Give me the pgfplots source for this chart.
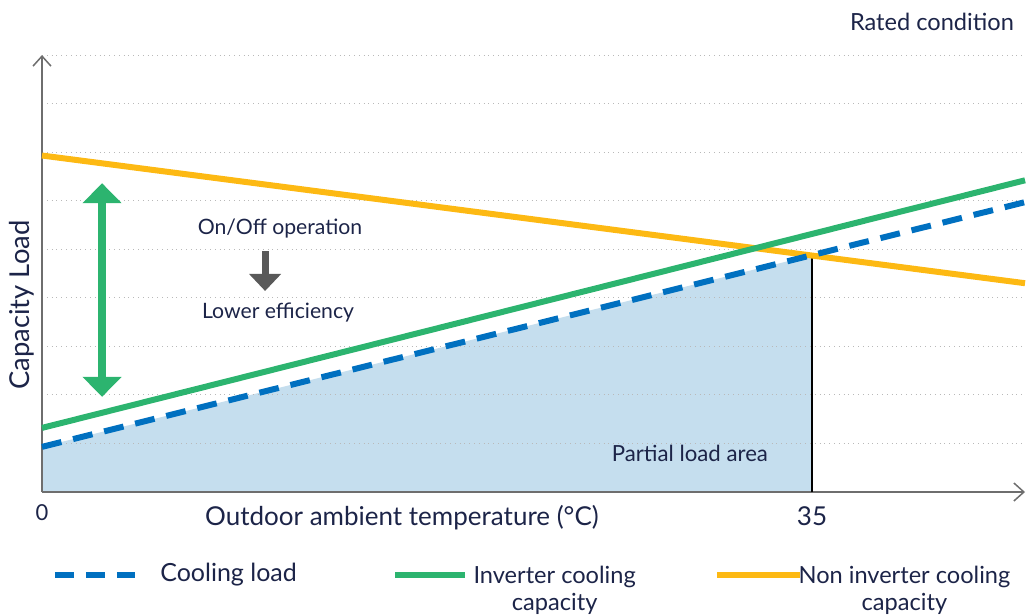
\documentclass[border=0pt]{standalone}
\usepackage{pgfplots}
\pgfplotsset{compat=1.18}
\usetikzlibrary{arrows.meta}
\usepackage{fontspec}
\setmainfont{Lato}
\definecolor{txt}{RGB}{28,36,72}
\definecolor{cblue}{RGB}{0,112,192}
\definecolor{cgreen}{RGB}{44,180,111}
\definecolor{corange}{RGB}{253,185,19}
\definecolor{cfill}{RGB}{197,222,238}
\definecolor{axgray}{RGB}{110,110,110}
\definecolor{arrgray}{RGB}{89,89,89}
\newcommand\fA{\fontsize{12.5}{15}\selectfont}
\newcommand\fR{\fontsize{11.8}{14}\selectfont}
\newcommand\fL{\fontsize{11.8}{13.3}\selectfont}
\newcommand\fB{\fontsize{10.6}{13}\selectfont}
\newcommand\fC{\fontsize{11.1}{14}\selectfont}
\newcommand\fD{\fontsize{13}{16}\selectfont}
\newcommand\fY{\fontsize{13.7}{16}\selectfont}
\newcommand\fE{\fontsize{11}{13}\selectfont}
\begin{document}
\begin{tikzpicture}
\begin{axis}[
  set layers,
  at={(0,0)}, anchor=south west,
  scale only axis,
  width=491.5pt, height=218.5pt,
  xmin=0, xmax=44.68, ymin=0, ymax=9,
  axis lines=left,
  axis line style={axgray, line width=0.75pt, -{Straight Barb[length=5pt,width=9pt]}},
  xtick=\empty,
  ytick={1,2,3,4,5,6,7,8,9},
  yticklabels={},
  major tick length=0pt,
  ymajorgrids,
  grid style={gray!55, dotted, line width=0.5pt},
  clip=false,
  font=\color{txt},
]
\addplot[draw=none, fill=cfill, on layer=axis background] coordinates {(0,0.93) (35,4.878)} \closedcycle;
\addplot[black, line width=0.6pt] coordinates {(35,0) (35,4.878)};
\addplot[corange, line width=3pt] coordinates {(0,6.93) (44.68,4.30)};
\addplot[cgreen, line width=3pt] coordinates {(0,1.32) (44.68,6.42)};
\addplot[cblue, line width=3pt, dash pattern=on 10pt off 6pt] coordinates {(0,0.93) (44.68,5.97)};

\draw[cgreen, line width=4pt, {Triangle[length=10pt,width=19pt]}-{Triangle[length=10pt,width=19pt]}] (axis cs:2.73,6.36) -- (axis cs:2.73,1.96);
\draw[arrgray, line width=3.5pt, -{Triangle[length=8.5pt,width=15.5pt]}] (axis cs:10.14,4.96) -- (axis cs:10.14,4.14);

\node[txt, font=\fB] at (axis cs:10.82,5.42) {On/Off operation};
\node[txt, font=\fB] at (axis cs:10.73,3.69) {Lower efficiency};
\node[txt, font=\fC] at (axis cs:29.45,0.80) {Partial load area};
\node[txt, font=\fR] at (axis cs:40.45,9.68) {Rated condition};
\node[txt, font=\fD] at (axis cs:16.36,-0.535) {Outdoor ambient temperature (°C)};
\node[txt, font=\fD] at (axis cs:35,-0.49) {35};
\node[txt, font=\fE] at (axis cs:0,-0.43) {0};
\node[txt, font=\fY, rotate=90] at (axis cs:-0.91,3.85) {Capacity Load};

% legend
\draw[cblue, line width=3pt, dash pattern=on 9.5pt off 6pt] (axis cs:0.59,-1.71) -- (axis cs:4.23,-1.71);
\node[txt, font=\fA, anchor=west, inner sep=0pt] at (axis cs:5.36,-1.71) {Cooling load};
\draw[cgreen, line width=3pt] (axis cs:16.05,-1.71) -- (axis cs:19.23,-1.71);
\node[txt, font=\fL, align=center, anchor=north, inner sep=0pt] at (axis cs:23.3,-1.52) {Inverter cooling\\capacity};
\draw[corange, line width=3pt] (axis cs:30.7,-1.71) -- (axis cs:34.45,-1.71);
\node[txt, font=\fL, align=center, anchor=north, inner sep=0pt] at (axis cs:39.2,-1.52) {Non inverter cooling\\capacity};
\end{axis}
\pgfresetboundingbox
\useasboundingbox (-21pt,-61.5pt) rectangle (492pt,246pt);
\end{tikzpicture}
\end{document}
